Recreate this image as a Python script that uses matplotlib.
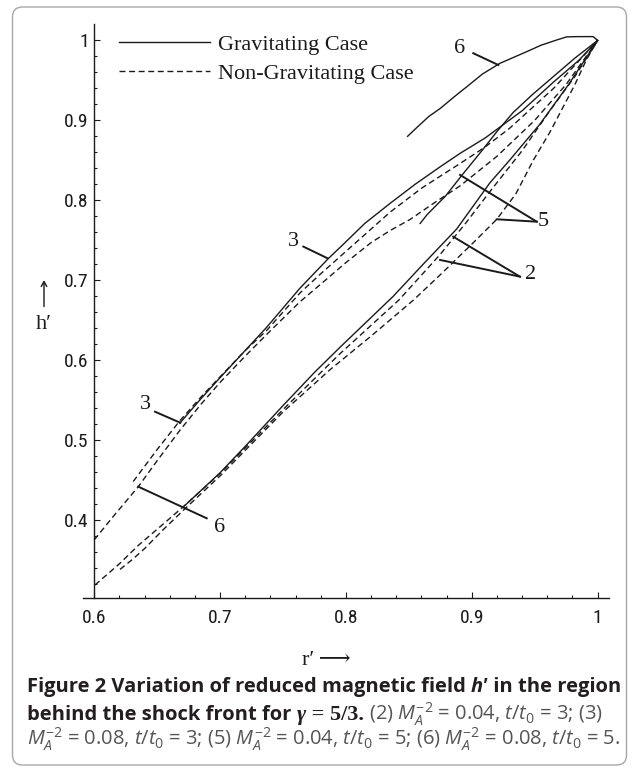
import matplotlib
matplotlib.use('Agg')
import matplotlib.pyplot as plt
from matplotlib.lines import Line2D
from matplotlib.patches import FancyBboxPatch
from matplotlib.transforms import IdentityTransform

plt.rcParams['mathtext.fontset'] = 'custom'
plt.rcParams['mathtext.rm'] = 'Open Sans'
plt.rcParams['mathtext.it'] = 'Open Sans:italic'
plt.rcParams['mathtext.bf'] = 'Open Sans:bold'

# curve 6, gravitating (solid)
g6_x = [0.849, 0.857, 0.866, 0.875, 0.888, 0.896, 0.9085, 0.9225, 0.9335, 0.9437,
        0.955, 0.9675, 0.9755, 0.985, 0.9965, 1.0]
g6_y = [0.880, 0.892, 0.905, 0.915, 0.932, 0.942, 0.958, 0.9715, 0.979, 0.986,
        0.994, 1.0006, 1.0045, 1.0048, 1.0048, 1.0]
# curve 3, gravitating (solid)
g3_x = [0.668, 0.685, 0.70, 0.72, 0.737, 0.75, 0.7635, 0.786, 0.798, 0.815, 0.835,
        0.855, 0.875, 0.891, 0.9107, 0.94, 0.965, 0.985, 1.0]
g3_y = [0.521, 0.552, 0.578, 0.612, 0.641, 0.665, 0.690, 0.727, 0.745, 0.771, 0.796,
        0.820, 0.842, 0.859, 0.878, 0.912, 0.948, 0.975, 1.0]
# curve 5, gravitating (solid)
g5_x = [0.859, 0.8645, 0.8695, 0.879, 0.8915, 0.9075, 0.92, 0.933, 0.948, 0.965, 0.982, 1.0]
g5_y = [0.771, 0.782, 0.790, 0.805, 0.830, 0.861, 0.886, 0.910, 0.932, 0.955, 0.978, 1.0]
# curve 2, gravitating (solid)
g2_x = [0.671, 0.685, 0.70, 0.72, 0.75, 0.7753, 0.7953, 0.8165, 0.8377, 0.862, 0.888,
        0.9145, 0.93, 0.954, 0.977, 1.0]
g2_y = [0.4165, 0.437, 0.459, 0.492, 0.543, 0.585, 0.616, 0.648, 0.680, 0.721, 0.764,
        0.822, 0.850, 0.895, 0.945, 1.0]

# non-gravitating (dashed)
n3_x = [0.631, 0.65, 0.668, 0.685, 0.70, 0.72, 0.737, 0.7635, 0.78, 0.80, 0.835, 0.86,
        0.8907, 0.91, 0.93, 0.965, 1.0]
n3_y = [0.448, 0.488, 0.524, 0.554, 0.579, 0.612, 0.637, 0.684, 0.708, 0.736, 0.785,
        0.815, 0.846, 0.866, 0.890, 0.940, 1.0]
n6_x = [0.6, 0.615, 0.635, 0.65, 0.668, 0.685, 0.70, 0.72, 0.737, 0.7635, 0.78, 0.80,
        0.82, 0.835, 0.851, 0.8695, 0.8907, 0.92, 0.95, 0.975, 1.0]
n6_y = [0.375, 0.404, 0.4415, 0.474, 0.512, 0.545, 0.572, 0.605, 0.632, 0.673, 0.695,
        0.722, 0.747, 0.762, 0.776, 0.796, 0.818, 0.855, 0.90, 0.945, 1.0]
n2_x = [0.6006, 0.62, 0.635, 0.655, 0.6708, 0.70, 0.75, 0.7953, 0.842, 0.8748, 0.895,
        0.9145, 0.94, 0.962, 0.982, 1.0]
n2_y = [0.3185, 0.345, 0.368, 0.395, 0.4165, 0.458, 0.538, 0.608, 0.675, 0.732, 0.771,
        0.811, 0.862, 0.912, 0.955, 1.0]
n5_x = [0.6205, 0.63, 0.64, 0.655, 0.6708, 0.70, 0.75, 0.7874, 0.82, 0.8536, 0.8748,
        0.90, 0.9198, 0.935, 0.949, 0.962, 0.9727, 0.982, 0.991, 1.0]
n5_y = [0.338, 0.350, 0.364, 0.388, 0.412, 0.455, 0.535, 0.588, 0.630, 0.675, 0.7065,
        0.745, 0.776, 0.808, 0.8504, 0.885, 0.917, 0.945, 0.9756, 1.0]

# curve labels: text position and the leader lines (start, end)
labels = ['3', '3', '6', '6', '5', '2']
label_pos = [(0.641, 0.545), (0.758, 0.749), (0.700, 0.390), (0.890, 0.9894),
             (0.9569, 0.7732), (0.9471, 0.7065)]
leaders = [
    [(0.6483, 0.5354), (0.6684, 0.5216)],
    [(0.7662, 0.742), (0.7854, 0.7274)],
    [(0.6894, 0.402), (0.635, 0.4416)],
    [(0.9012, 0.984), (0.9211, 0.9693)],
    [(0.9516, 0.7732), (0.8907, 0.8317)],
    [(0.9516, 0.7732), (0.9198, 0.7762)],
    [(0.9383, 0.7044), (0.8853, 0.7544)],
    [(0.9383, 0.7044), (0.8748, 0.7253)],
]

x_ticks = [0.6, 0.7, 0.8, 0.9, 1.0]
x_tick_labels = ['0.6', '0.7', '0.8', '0.9', '1']
y_ticks = [0.4, 0.5, 0.6, 0.7, 0.8, 0.9, 1.0]
y_tick_labels = ['0.4', '0.5', '0.6', '0.7', '0.8', '0.9', '1']

fig = plt.figure(figsize=(6.34, 7.67), dpi=100)
ax = fig.add_axes([0.1311, 0.2205, 0.829, 0.7476])

ink = '#1a1a1a'
lw = 1.0
dash = (4.3, 2.6)
for xs, ys in [(g6_x, g6_y), (g3_x, g3_y), (g5_x, g5_y), (g2_x, g2_y)]:
    ax.plot(xs, ys, color=ink, lw=lw)
for xs, ys in [(n3_x, n3_y), (n6_x, n6_y), (n2_x, n2_y), (n5_x, n5_y)]:
    ax.plot(xs, ys, color=ink, lw=lw, dashes=dash)

serif = ['Liberation Serif', 'DejaVu Serif']
for seg in leaders:
    ax.plot([seg[0][0], seg[1][0]], [seg[0][1], seg[1][1]], color=ink, lw=1.4)
for t, (lx, ly) in zip(labels, label_pos):
    ax.text(lx, ly, t, family=serif, fontsize=16, ha='center', va='center', color=ink)

ax.set_xlim(0.5912, 1.0088)
ax.set_ylim(0.3024, 1.02)
ax.spines[['top', 'right']].set_visible(False)
ax.spines['left'].set_position(('data', 0.6))
for s in ['left', 'bottom']:
    ax.spines[s].set_linewidth(1.0)
    ax.spines[s].set_color(ink)
ax.set_xticks(x_ticks, x_tick_labels)
ax.set_yticks(y_ticks, y_tick_labels)
ax.set_xticks([0.6 + 0.02 * i for i in range(21)], minor=True)
ax.set_yticks([0.32 + 0.02 * i for i in range(35)], minor=True)
ax.tick_params(which='both', direction='in', width=0.8, color=ink)
ax.tick_params(which='major', length=4)
ax.tick_params(which='minor', length=2.2)
ax.tick_params(axis='x', pad=8)
ax.tick_params(axis='y', pad=4)
for lab in ax.get_xticklabels() + ax.get_yticklabels():
    lab.set_family(['Roboto Condensed', 'Liberation Sans Narrow', 'Roboto'])
    lab.set_fontsize(14)
    lab.set_color(ink)

ax.set_xlabel('r\u2032\u2009\u27f6', family=serif, fontsize=16, color=ink)
ax.xaxis.set_label_coords(0.462, -0.093)
ax.set_ylabel('h\u2032', family=serif, fontsize=16, rotation=0,
              va='center', ha='center', color=ink)
ax.yaxis.set_label_coords(-0.0744, 0.476)
ax.annotate('', xy=(-0.0744, 0.554), xytext=(-0.0744, 0.508), xycoords='axes fraction',
            arrowprops=dict(arrowstyle='->,head_length=0.35,head_width=0.2',
                            lw=1.0, color=ink, shrinkA=0, shrinkB=0))

handles = [Line2D([], [], color=ink, lw=lw),
           Line2D([], [], color=ink, lw=lw, dashes=dash)]
ax.legend(handles, ['Gravitating Case', 'Non-Gravitating Case'], loc='upper left',
          bbox_to_anchor=(0.068, 0.9834), frameon=False, handlelength=4.1,
          handletextpad=0.35, labelspacing=0.39, borderpad=0, borderaxespad=0,
          prop={'family': 'Liberation Serif', 'size': 16}, labelcolor=ink)

# figure border
fig.add_artist(FancyBboxPatch((12.5, 2), 614, 758, boxstyle='round,pad=0,rounding_size=10',
                              transform=IdentityTransform(), fill=False,
                              edgecolor='#a8a8a8', lw=1.0))

# caption, written piece by piece
renderer = fig.canvas.get_renderer()
fs = 14.5
bold = dict(family='Open Sans', weight='bold', fontsize=fs, color='#231f20')
bold_it = dict(family='Open Sans', weight='bold', style='italic', fontsize=fs, color='#231f20')
serif_b = dict(family='Liberation Serif', weight='bold', fontsize=16, color='#231f20')
serif_bi = dict(family='Liberation Serif', weight='bold', style='italic', fontsize=16,
                color='#231f20')
gray = dict(family='Open Sans', fontsize=fs, color='#555555')

caption = [
    (75, [('Figure 2 Variation of reduced magnetic field ', bold), ('h\u2032', bold_it),
          (' in the region', bold)]),
    (47, [('behind the shock front for ', bold), ('\u03b3', serif_bi), (' = 5/3.', serif_b),
          (r' (2) $M_A^{-2}$ = 0.04, $t/t_0$ = 3; (3)', gray)]),
    (22, [(r'$M_A^{-2}$ = 0.08, $t/t_0$ = 3; (5) $M_A^{-2}$ = 0.04, $t/t_0$ = 5; '
           r'(6) $M_A^{-2}$ = 0.08, $t/t_0$ = 5.', gray)]),
]
for base, pieces in caption:
    x = 27
    for txt, props in pieces:
        t = fig.text(x, base, txt, transform=IdentityTransform(), va='baseline', **props)
        x = t.get_window_extent(renderer).x1

fig.savefig('out.png', dpi=100)
